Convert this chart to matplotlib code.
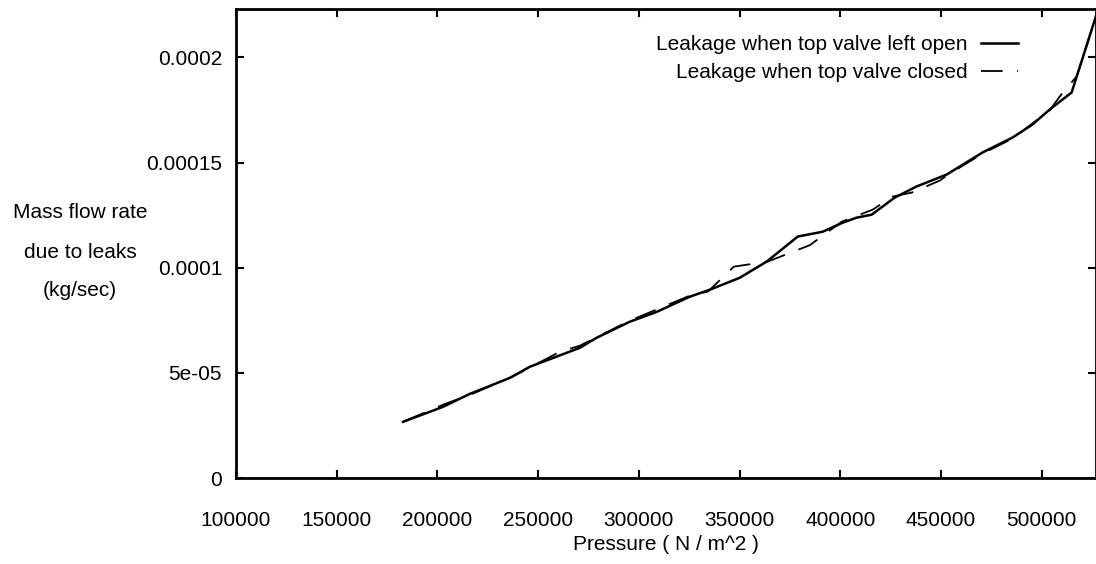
import matplotlib
matplotlib.use("Agg")
import matplotlib.pyplot as plt

plt.rcParams['font.family'] = ['Liberation Sans', 'DejaVu Sans']

# pressure (N/m^2) and leakage mass flow rate (kg/sec)
p_open = [182900, 202700, 216100, 236000, 245900, 270700, 279100, 295500,
          308900, 325300, 335200, 350100, 363500, 378900, 391300, 401200,
          408200, 415600, 427000, 437900, 452900, 470700, 485600, 495500,
          504000, 514900, 527300]
m_open = [2.67e-5, 3.38e-5, 4.00e-5, 4.76e-5, 5.29e-5, 6.19e-5, 6.67e-5, 7.43e-5,
          7.90e-5, 8.62e-5, 8.95e-5, 9.52e-5, 1.029e-4, 1.148e-4, 1.171e-4, 1.214e-4,
          1.238e-4, 1.252e-4, 1.333e-4, 1.386e-4, 1.443e-4, 1.548e-4, 1.619e-4, 1.681e-4,
          1.752e-4, 1.833e-4, 2.205e-4]

p_closed = [183900, 203700, 216100, 237000, 260800, 270700, 295500, 325300,
            334300, 347200, 364000, 384900, 400800, 416100, 426000, 435500,
            449400, 452900, 470700, 485600, 504000, 509000, 517400, 527300]
m_closed = [2.71e-5, 3.52e-5, 3.95e-5, 4.81e-5, 6.00e-5, 6.29e-5, 7.48e-5, 8.67e-5,
            8.86e-5, 1.005e-4, 1.029e-4, 1.107e-4, 1.219e-4, 1.276e-4, 1.338e-4, 1.357e-4,
            1.414e-4, 1.438e-4, 1.543e-4, 1.614e-4, 1.748e-4, 1.814e-4, 1.910e-4, 2.205e-4]

xticks = [100000, 150000, 200000, 250000, 300000, 350000, 400000, 450000, 500000]
yticks = [0, 5e-05, 0.0001, 0.00015, 0.0002]
ytick_labels = ['0', '5e-05', '0.0001', '0.00015', '0.0002']

fs = 15

fig = plt.figure(figsize=(10.96, 5.64), dpi=100)
ax = fig.add_axes([236/1096, 1 - 478/564, 1 - 236/1096, (478 - 9)/564])

ax.plot(p_open, m_open, color='black', lw=1.8, label='Leakage when top valve left open')
ax.plot(p_closed, m_closed, color='black', lw=1.3, dashes=(12, 8),
        label='Leakage when top valve closed')

ax.set_xlim(100000, 527000)
ax.set_ylim(0, 0.000223)
ax.set_xticks(xticks)
ax.set_xticklabels([str(t) for t in xticks])
ax.set_yticks(yticks)
ax.set_yticklabels(ytick_labels)
ax.tick_params(direction='in', length=6, width=1.5, top=True, right=True,
               labelsize=fs, pad=10)
ax.tick_params(axis='x', pad=24)
for s in ax.spines.values():
    s.set_linewidth(2)

ax.set_xlabel('Pressure ( N / m^2 )', fontsize=fs, labelpad=3)

for i, line in enumerate(['Mass flow rate', 'due to leaks', '(kg/sec)']):
    fig.text(80/1096, 1 - (213 + 39*i)/564, line, fontsize=fs, ha='center', va='center')

ax.legend(loc='upper right', bbox_to_anchor=(1018/1096, 1 - 35/564),
          bbox_transform=fig.transFigure, frameon=False, markerfirst=False,
          fontsize=fs, handlelength=1.8, handletextpad=0.6, labelspacing=0.45,
          borderaxespad=0, borderpad=0)

fig.savefig('out.png', dpi=100)
